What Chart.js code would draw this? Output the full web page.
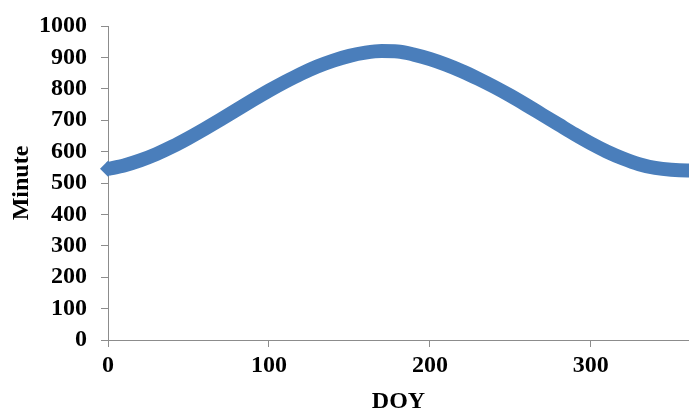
<!DOCTYPE html>
<html>
<head>
<meta charset="utf-8">
<script src="https://cdn.jsdelivr.net/npm/chart.js@4"></script>
<style>
  html, body { margin: 0; padding: 0; background: #fff; }
  #wrap { width: 689px; height: 414px; }
</style>
</head>
<body>
<div id="wrap"><canvas id="rel1" width="689" height="414"></canvas></div>
<script>
// dia do ano (eixo X)
var doy = [0, 10, 20, 30, 40, 50, 60, 70, 80, 90, 100, 110, 120, 130, 140, 150, 160, 170, 180,
           190, 200, 210, 220, 230, 240, 250, 260, 270, 280, 290, 300, 310, 320, 330, 340, 350, 360, 365];
// duracao do dia em minutos (eixo Y)
var minutes = [545, 556, 572, 592, 616, 643, 672, 702, 733, 764, 794, 822, 848, 871, 890, 905, 915, 920, 919,
               909, 895, 877, 856, 832, 806, 778, 748, 717, 686, 655, 626, 600, 578, 560, 548, 542, 540, 541];
var xTicks = [0, 100, 200, 300];
var yTicks = [0, 100, 200, 300, 400, 500, 600, 700, 800, 900, 1000];

var points = doy.map(function (d, i) { return { x: d, y: minutes[i] }; });

var tickFont = { family: 'Liberation Serif', size: 24, weight: 'bold', lineHeight: 1 };
var titleFont = { family: 'Liberation Serif', size: 24, weight: 'bold', lineHeight: 1 };
var axisGray = '#8c8c8c';

var rel1 = new Chart(document.getElementById('rel1'), {
    type: 'line',
    data: {
        datasets: [{
            label: 'Minute',
            data: points,
            borderColor: '#4a7ebb',
            backgroundColor: '#4a7ebb',
            borderWidth: 14,
            pointStyle: 'rectRot',
            pointRadius: function (ctx) { return ctx.dataIndex === 0 ? 8 : 0; },
            pointBorderWidth: 0,
            pointHoverRadius: 0,
            cubicInterpolationMode: 'monotone',
            clip: { left: 12, top: 12, right: 0, bottom: 0 },
            fill: false
        }]
    },
    options: {
        responsive: false,
        animation: false,
        layout: { autoPadding: false, padding: { top: 8, right: 0, left: 10, bottom: 0 } },
        plugins: {
            legend: { display: false },
            tooltip: { enabled: false }
        },
        scales: {
            x: {
                type: 'linear',
                min: 0,
                max: 361,
                afterBuildTicks: function (axis) {
                    axis.ticks = xTicks.map(function (v) { return { value: v }; });
                },
                ticks: { font: tickFont, color: '#000', padding: 7, maxRotation: 0,
                         callback: function (v) { return String(v); } },
                grid: { drawOnChartArea: false, drawTicks: true, tickLength: 7, color: axisGray },
                border: { color: axisGray, width: 1 },
                title: { display: true, text: 'DOY', font: titleFont, color: '#000', padding: { top: 5, bottom: 0 } }
            },
            y: {
                min: 0,
                max: 1000,
                afterBuildTicks: function (axis) {
                    axis.ticks = yTicks.map(function (v) { return { value: v }; });
                },
                ticks: { font: tickFont, color: '#000', padding: 14,
                         callback: function (v) { return String(v); } },
                grid: { drawOnChartArea: false, drawTicks: true, tickLength: 7, color: axisGray },
                border: { color: axisGray, width: 1 },
                title: { display: true, text: 'Minute', font: titleFont, color: '#000', padding: { top: 0, bottom: -9 } }
            }
        }
    }
});
</script>
</body>
</html>
